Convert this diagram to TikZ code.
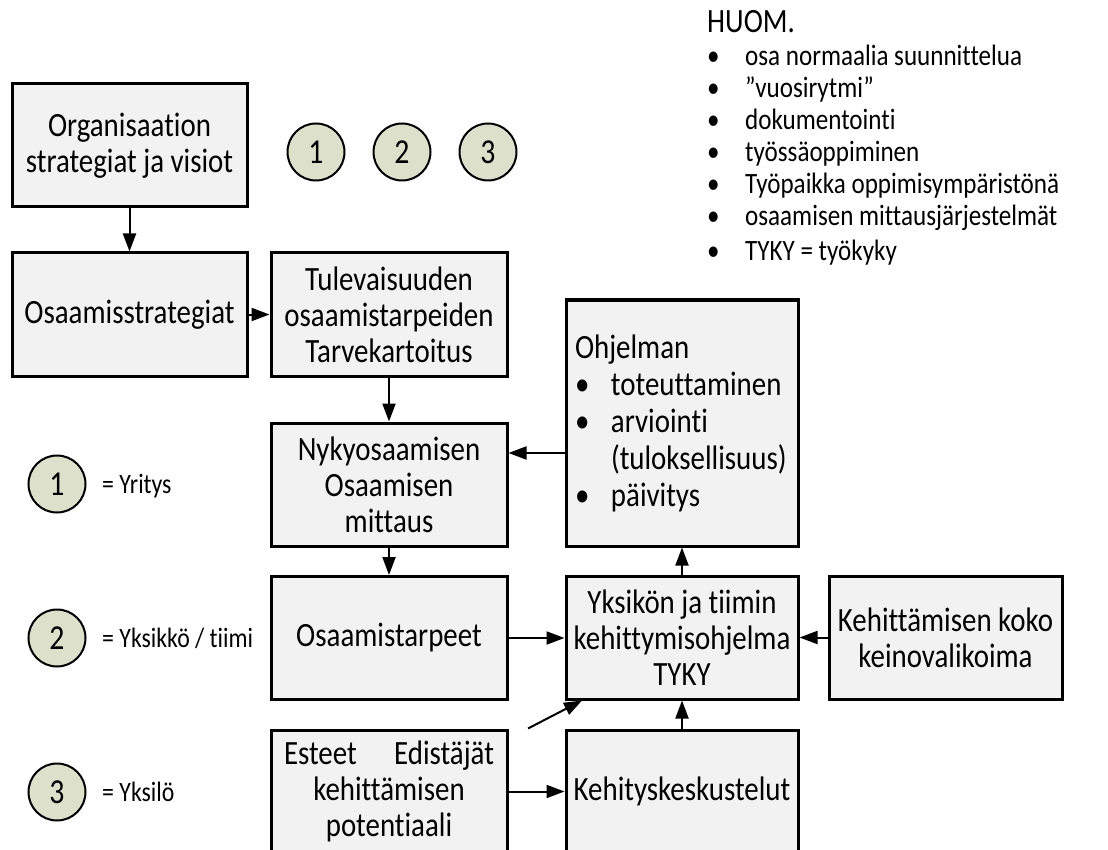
\documentclass[tikz,border=0pt]{standalone}
\usepackage{fontspec}
\setmainfont{Carlito}[FakeStretch=0.85, Ligatures=NoCommon]
\usetikzlibrary{arrows.meta,calc}
\definecolor{boxfill}{HTML}{F2F2F2}
\definecolor{dotfill}{HTML}{DDE1CB}

\begin{document}
\begin{tikzpicture}[x=1pt,y=-1pt,
  box/.style={draw=black, line width=3pt, fill=boxfill, minimum width=#1,
    minimum height=123pt, inner sep=3pt, align=center,
    font=\fontsize{34}{36}\selectfont},
  box/.default=235pt,
  badge/.style={circle, draw=black, line width=2pt, fill=dotfill,
    minimum size=57pt, inner sep=0pt, font=\fontsize{35}{36}\selectfont},
  legend/.style={anchor=base west, inner sep=0pt, font=\fontsize{28}{30}\selectfont},
  note/.style={anchor=base west, inner sep=0pt, font=\fontsize{29.5}{32}\selectfont},
  flow/.style={line width=2pt, -{Triangle[length=18pt,width=13pt]}},
]
\useasboundingbox (0,0) rectangle (1108,850);
\fill[white] (0,0) rectangle (1108,850);
\clip (0,0) rectangle (1108,850);

% main chain of boxes
\node[box] (org) at (129.5,145.5) {Organisaation\\strategiat ja visiot};
\node[box] (ostr) at (129.5,314.5) {Osaamisstrategiat};
\node[box=236pt] (tul) at (389,314.5) {Tulevaisuuden\\osaamistarpeiden\\Tarvekartoitus};
\node[box=236pt] (nyky) at (389,484.5) {Nykyosaamisen\\Osaamisen\\mittaus};
\node[box=236pt] (otarp) at (389,638) {Osaamistarpeet};
\node[box=236pt] (este) at (389,791.5)
  {\makebox[210pt]{Esteet\hfill Edistäjät}\\kehittämisen\\potentiaali};
\node[box=232pt, minimum height=246pt, align=left, text width=214pt,
  inner xsep=9pt, font=\fontsize{34}{37}\selectfont] (ohj) at (682,423)
  {Ohjelman\\
   \makebox[36pt][l]{\textbullet}toteuttaminen\\
   \makebox[36pt][l]{\textbullet}arviointi\\
   \hspace*{36pt}(tuloksellisuus)\\
   \makebox[36pt][l]{\textbullet}päivitys};
\node[box=232pt] (yks) at (682,637.5) {Yksikön ja tiimin\\kehittymisohjelma\\TYKY};
\node[box=233pt] (kkoko) at (945.5,637.5) {Kehittämisen koko\\keinovalikoima};
\node[box=232pt] (kesk) at (682,791.5) {Kehityskeskustelut};

% level badges
\node[badge] (b1) at (316,152) {1};
\node[badge] (b2) at (402,152) {2};
\node[badge] (b3) at (488,152) {3};

% legend
\node[badge] (l1) at (57,484) {1};
\node[badge] (l2) at (57,638) {2};
\node[badge] (l3) at (57,792) {3};
\node[legend] (t1) at (102,493) {= Yritys};
\node[legend] (t2) at (102,647) {= Yksikkö / tiimi};
\node[legend] (t3) at (102,801) {= Yksilö};

% notes
\node[note, font=\fontsize{34}{36}\selectfont] (huom) at (707,33) {HUOM.};
\node[note] (n1) at (707,66) {\makebox[38pt][l]{\textbullet}osa normaalia suunnittelua};
\node[note] (n2) at (707,98) {\makebox[38pt][l]{\textbullet}”vuosirytmi”};
\node[note] (n3) at (707,130) {\makebox[38pt][l]{\textbullet}dokumentointi};
\node[note] (n4) at (707,162) {\makebox[38pt][l]{\textbullet}työssäoppiminen};
\node[note] (n5) at (707,194) {\makebox[38pt][l]{\textbullet}Työpaikka oppimisympäristönä};
\node[note] (n6) at (707,226) {\makebox[38pt][l]{\textbullet}osaamisen mittausjärjestelmät};
\node[note] (n7) at (707,261) {\makebox[38pt][l]{\textbullet}TYKY = työkyky};

% connectors
\coordinate (fb) at (0,453);
\coordinate (d1) at (528,0);
\coordinate (d2) at (582,0);
\draw[flow] (org.south) -- (ostr.north);
\draw[flow] (ostr.east) -- (tul.west);
\draw[flow] (tul.south) -- (nyky.north);
\draw[flow] (ohj.west |- fb) -- (nyky.east |- fb);
\draw[flow] (nyky.south) -- (otarp.north);
\draw[flow] (otarp.east) -- (otarp.east -| yks.west);
\draw[flow] (kkoko.west) -- (kkoko.west -| yks.east);
\draw[flow] (yks.north) -- (ohj.south);
\draw[flow] (kesk.north) -- (yks.south);
\draw[flow] (este.east) -- (kesk.west);
\draw[flow] (este.north -| d1) -- (yks.south -| d2);
\end{tikzpicture}
\end{document}
